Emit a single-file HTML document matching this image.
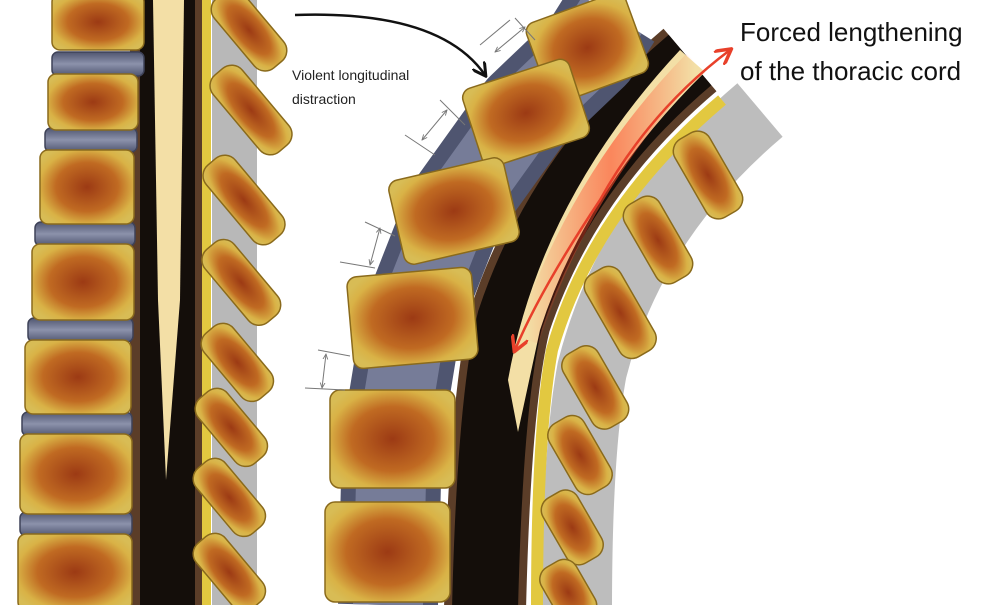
<!DOCTYPE html>
<html><head><meta charset="utf-8"><style>
html,body{margin:0;padding:0;background:#fff;width:1000px;height:605px;overflow:hidden}
text{font-family:"Liberation Sans",sans-serif}
</style></head><body>
<svg width="1000" height="605" viewBox="0 0 1000 605" xmlns="http://www.w3.org/2000/svg">
<defs>
<radialGradient id="bone" cx="50%" cy="50%" r="60%">
<stop offset="0" stop-color="#9c3a14"/><stop offset="0.55" stop-color="#c06a22"/><stop offset="0.85" stop-color="#d9b246"/><stop offset="1" stop-color="#d8bc55"/>
</radialGradient>
<linearGradient id="disc" x1="0" y1="0" x2="0" y2="1">
<stop offset="0" stop-color="#4f5570"/><stop offset="0.5" stop-color="#8c92ab"/><stop offset="1" stop-color="#4f5570"/>
</linearGradient>
<linearGradient id="glow" x1="0" y1="0" x2="1" y2="0">
<stop offset="0" stop-color="#ff3a20" stop-opacity="0"/><stop offset="0.5" stop-color="#ff4a2a" stop-opacity="0.7"/><stop offset="1" stop-color="#ff3a20" stop-opacity="0"/>
</linearGradient>
<marker id="ra" viewBox="0 0 10 10" refX="8" refY="5" markerWidth="7" markerHeight="7" orient="auto-start-reverse"><path d="M0,0 L9,5 L0,10" fill="none" stroke="#e8402a" stroke-width="2"/></marker>
<marker id="ba" viewBox="0 0 10 10" refX="8" refY="5" markerWidth="6" markerHeight="6" orient="auto"><path d="M0,0 L9,5 L0,10" fill="none" stroke="#111" stroke-width="2"/></marker>
<marker id="ga" viewBox="0 0 10 10" refX="9" refY="5" markerWidth="6" markerHeight="6" orient="auto-start-reverse"><path d="M0,1 L9,5 L0,9" fill="none" stroke="#777" stroke-width="1.5"/></marker>
</defs>

<!-- LEFT SPINE -->
<rect x="212" y="0" width="45" height="605" fill="#b8b8b8"/>
<rect x="197" y="0" width="14" height="605" fill="#e2c840"/>
<rect x="130" y="0" width="72" height="605" fill="#5b3d28"/>
<rect x="140" y="0" width="55" height="605" fill="#140e0a"/>
<path d="M153 0 L184 0 L180 300 L166 480 L158 300 Z" fill="#f3dfa6"/>
<g fill="url(#disc)" stroke="#3e4258" stroke-width="1.5">
<rect x="52" y="52" width="92" height="24" rx="6"/>
<rect x="45" y="128" width="92" height="24" rx="6"/>
<rect x="35" y="222" width="100" height="24" rx="6"/>
<rect x="28" y="318" width="105" height="24" rx="6"/>
<rect x="22" y="412" width="110" height="24" rx="6"/>
<rect x="20" y="512" width="112" height="24" rx="6"/>
</g>
<g fill="url(#bone)" stroke="#8a6a1c" stroke-width="1.5">
<rect x="52" y="-6" width="92" height="56" rx="8"/>
<rect x="48" y="74" width="90" height="56" rx="8"/>
<rect x="40" y="150" width="94" height="74" rx="8"/>
<rect x="32" y="244" width="102" height="76" rx="8"/>
<rect x="25" y="340" width="106" height="74" rx="8"/>
<rect x="20" y="434" width="112" height="80" rx="8"/>
<rect x="18" y="534" width="114" height="76" rx="8"/>
</g>
<g fill="url(#bone)" stroke="#8a6a1c" stroke-width="1.5">
<rect x="230" y="-15" width="38" height="90" rx="14" transform="rotate(-40 249 30)"/>
<rect x="232" y="60" width="38" height="100" rx="14" transform="rotate(-40 251 110)"/>
<rect x="225" y="150" width="38" height="100" rx="14" transform="rotate(-40 244 200)"/>
<rect x="222" y="235" width="38" height="95" rx="14" transform="rotate(-40 241 282)"/>
<rect x="218" y="320" width="38" height="85" rx="14" transform="rotate(-40 237 362)"/>
<rect x="212" y="385" width="38" height="85" rx="14" transform="rotate(-40 231 427)"/>
<rect x="210" y="455" width="38" height="85" rx="14" transform="rotate(-40 229 497)"/>
<rect x="210" y="530" width="38" height="85" rx="14" transform="rotate(-40 229 572)"/>
</g>

<!-- RIGHT SPINE -->
<path d="M760 110 Q 630 220 592 370 Q 577 450 577 610" fill="none" stroke="#bdbdbd" stroke-width="70"/>
<path d="M722 100 Q 592 210 552 350 Q 537 430 537 610" fill="none" stroke="#e2c840" stroke-width="12"/>
<path d="M690 60 Q 560 170 510 320 Q 490 400 485 610" fill="none" stroke="#5b3d28" stroke-width="82"/>
<path d="M690 60 Q 560 170 510 320 Q 490 400 485 610" fill="none" stroke="#140e0a" stroke-width="66"/>
<path d="M680 50 L 705 72 Q 585 190 540 330 L 518 432 L 508 380 Q 540 200 680 50 Z" fill="#f3dfa6"/>
<path d="M695 62 Q 580 180 527 340" fill="none" stroke="url(#glow)" stroke-width="24" opacity="0.85"/>
<rect x="640" y="0" width="120" height="40" fill="#fff" transform="rotate(40 700 20)"/>
<path d="M612 15 L590 50 L525 112 L454 211 L412 318 L392 440 L388 605" fill="none" stroke="#4f5570" stroke-width="100" stroke-linejoin="round"/>
<path d="M612 15 L590 50 L525 112 L454 211 L412 318 L392 440 L388 605" fill="none" stroke="#767c98" stroke-width="70" stroke-linejoin="round"/>
<g fill="url(#bone)" stroke="#8a6a1c" stroke-width="1.5">
<rect x="535" y="5" width="105" height="85" rx="10" transform="rotate(-20 588 48)"/>
<rect x="470" y="72" width="112" height="82" rx="10" transform="rotate(-18 526 113)"/>
<rect x="395" y="168" width="118" height="86" rx="10" transform="rotate(-13 454 211)"/>
<rect x="350" y="272" width="125" height="92" rx="10" transform="rotate(-5 412 318)"/>
<rect x="330" y="390" width="125" height="98" rx="10"/>
<rect x="325" y="502" width="125" height="100" rx="10"/>
</g>
<g fill="url(#bone)" stroke="#8a6a1c" stroke-width="1.5">
<rect x="688" y="130" width="40" height="90" rx="14" transform="rotate(-30 708 175)"/>
<rect x="638" y="195" width="40" height="90" rx="14" transform="rotate(-30 658 240)"/>
<rect x="600" y="265" width="40" height="95" rx="14" transform="rotate(-30 620 312)"/>
<rect x="575" y="345" width="40" height="85" rx="14" transform="rotate(-30 595 387)"/>
<rect x="560" y="415" width="40" height="80" rx="14" transform="rotate(-30 580 455)"/>
<rect x="552" y="490" width="40" height="75" rx="14" transform="rotate(-30 572 527)"/>
<rect x="548" y="560" width="40" height="65" rx="14" transform="rotate(-30 568 592)"/>
</g>

<path d="M730 50 Q 650 110 600 200 Q 540 290 515 350" fill="none" stroke="#e8402a" stroke-width="2.5" marker-start="url(#ra)" marker-end="url(#ra)"/>
<path d="M295 15 Q 440 10 485 75" fill="none" stroke="#111" stroke-width="2.5" marker-end="url(#ba)"/>
<g stroke="#777" stroke-width="1" fill="none">
<line x1="480" y1="45" x2="510" y2="20"/><line x1="515" y1="18" x2="535" y2="40"/>
<line x1="495" y1="52" x2="525" y2="27" marker-start="url(#ga)" marker-end="url(#ga)"/>
<line x1="405" y1="135" x2="435" y2="155"/><line x1="440" y1="100" x2="465" y2="125"/>
<line x1="422" y1="140" x2="447" y2="110" marker-start="url(#ga)" marker-end="url(#ga)"/>
<line x1="340" y1="262" x2="375" y2="268"/><line x1="365" y1="222" x2="395" y2="236"/>
<line x1="370" y1="265" x2="380" y2="228" marker-start="url(#ga)" marker-end="url(#ga)"/>
<line x1="305" y1="388" x2="345" y2="390"/><line x1="318" y1="350" x2="350" y2="356"/>
<line x1="322" y1="388" x2="326" y2="354" marker-start="url(#ga)" marker-end="url(#ga)"/>
</g>

<text x="292" y="80" font-size="14" fill="#222">Violent longitudinal</text>
<text x="292" y="104" font-size="14" fill="#222">distraction</text>
<text x="740" y="41" font-size="26" fill="#111">Forced lengthening</text>
<text x="740" y="80" font-size="26" fill="#111">of the thoracic cord</text>
</svg>
</body></html>
